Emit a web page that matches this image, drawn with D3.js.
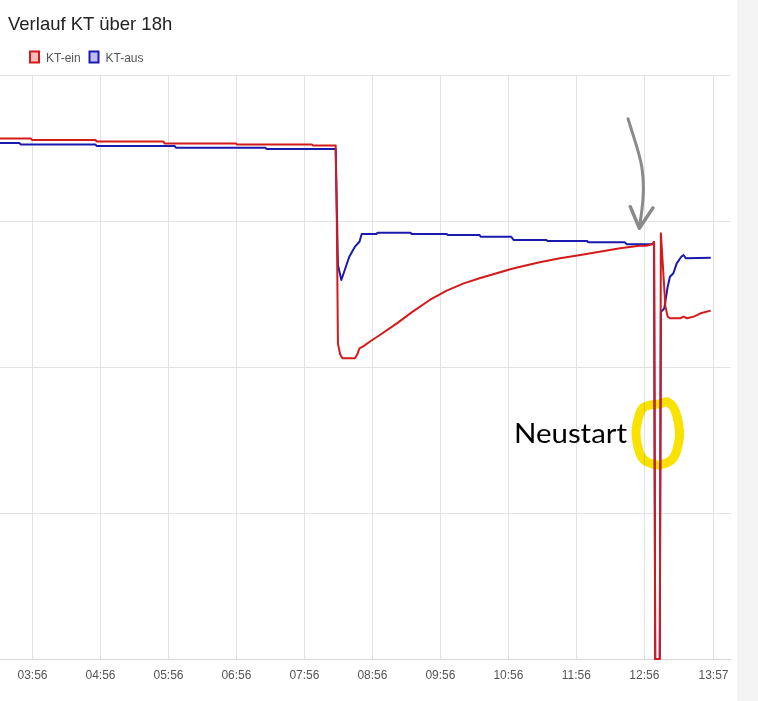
<!DOCTYPE html>
<html>
<head>
<meta charset="utf-8">
<script src="https://cdn.jsdelivr.net/npm/d3@7"></script>
<style>
  html, body { margin: 0; padding: 0; background: #fff; }
  svg { display: block; }
</style>
</head>
<body>
<svg id="chart" width="758" height="701"></svg>
<script>
// ---------- data ----------
const chartTitle = "Verlauf KT über 18h";
const seriesNames = ["KT-ein", "KT-aus"];
const tickLabels = ["03:56","04:56","05:56","06:56","07:56","08:56","09:56","10:56","11:56","12:56","13:57"];
const yTicks = [0, 10, 20, 30, 40];

const einTimes = ["03:26","03:55","03:56","04:52","04:53","05:52","05:53","06:56","06:57","08:03","08:04","08:24","08:25","08:26","08:28","08:30","08:41","08:43","08:45","08:49","08:54","09:03","09:18","09:32","09:47","10:02","10:17","10:31","10:46","10:58","11:07","11:24","11:42","12:00","12:17","12:35","12:52","12:58","13:03","13:05","13:06","13:10","13:11","13:13","13:15","13:17","13:19","13:28","13:31","13:34","13:40","13:46","13:55"];
const einValues = [35.65,35.65,35.55,35.55,35.45,35.45,35.31,35.31,35.24,35.24,35.17,35.17,30.0,21.6,20.85,20.6,20.6,20.85,21.28,21.45,21.73,22.19,22.99,23.79,24.59,25.23,25.73,26.08,26.42,26.69,26.87,27.17,27.45,27.67,27.90,28.13,28.31,28.31,28.40,28.58,0,0,29.16,26.64,24.13,23.45,23.34,23.34,23.45,23.34,23.45,23.68,23.86];

const ausTimes = ["03:26","03:45","03:46","04:52","04:53","06:02","06:03","07:22","07:23","08:24","08:26","08:29","08:33","08:36","08:41","08:45","08:47","09:00","09:01","09:30","09:31","10:02","10:03","10:31","10:32","10:59","11:01","11:30","11:31","12:06","12:07","12:39","12:41","13:05","13:06","13:10","13:11","13:14","13:17","13:19","13:22","13:25","13:29","13:31","13:33","13:55"];
const ausValues = [35.34,35.34,35.24,35.24,35.14,35.14,35.02,35.02,34.94,34.94,26.99,25.96,26.87,27.55,28.24,28.58,29.11,29.11,29.20,29.20,29.11,29.11,29.04,29.04,28.92,28.92,28.70,28.70,28.63,28.63,28.54,28.54,28.40,28.40,0,0,23.77,24.02,25.50,26.18,26.42,27.10,27.55,27.67,27.45,27.49];

// annotation (hand-drawn overlay) in data coordinates
const arrowTimes  = ["12:42","12:49","12:55","12:56","12:54:30","12:52"];
const arrowValues = [37.0, 35.3, 33.7, 32.1, 30.8, 29.55];
const arrowHeadTimes  = ["12:44","12:52","13:04"];
const arrowHeadValues = [30.98, 29.5, 30.9];
const circleTimes  = ["13:10","12:55","12:49","12:54","13:08","13:22","13:27:30","13:24","13:17"];
const circleValues = [17.47, 17.19, 15.55, 13.84, 13.29, 13.77, 15.34, 16.92, 17.6];
const noteText = "Neustart";

// ---------- scales ----------
const parseT = s => {
  const p = s.split(":").map(Number);
  return new Date(2020, 0, 1, p[0], p[1], p[2] || 0);
};
const x = d3.scaleTime()
  .domain([parseT("03:26"), parseT("14:12")])
  .range([-2, 730]);
const y = d3.scaleLinear().domain([0, 40]).range([659, 75]);

const svg = d3.select("#chart");

// right grey panel
svg.append("rect").attr("x", 737).attr("y", 0).attr("width", 21).attr("height", 701).attr("fill", "#f4f4f4");

// title
svg.append("text").attr("x", 8).attr("y", 29.5)
  .attr("font-family", "'Liberation Sans', Arial, sans-serif")
  .attr("font-size", 18.5).attr("fill", "#222").text(chartTitle);

// legend
const legendColors = [["#d41a1a", "rgba(230,40,40,0.3)"], ["#1a1ab0", "rgba(40,40,220,0.3)"]];
const legendX = [30, 89.5];
seriesNames.forEach((n, i) => {
  svg.append("rect").attr("x", legendX[i]).attr("y", 51.5).attr("width", 9).attr("height", 11)
    .attr("fill", legendColors[i][1]).attr("stroke", legendColors[i][0]).attr("stroke-width", 2);
  svg.append("text").attr("x", legendX[i] + 16).attr("y", 61.5)
    .attr("font-family", "'Liberation Sans', Arial, sans-serif")
    .attr("font-size", 12).attr("fill", "#555").text(n);
});

// gridlines
const tickDates = tickLabels.map(parseT);
const grid = svg.append("g");
grid.selectAll("line.v").data(tickDates).enter().append("line")
  .attr("x1", d => Math.round(x(d)) + 0.5).attr("x2", d => Math.round(x(d)) + 0.5)
  .attr("y1", y(40)).attr("y2", y(0)).attr("stroke", "#e3e3e3");
grid.selectAll("line.h").data(yTicks).enter().append("line")
  .attr("x1", 0).attr("x2", 731)
  .attr("y1", d => Math.round(y(d)) + 0.5).attr("y2", d => Math.round(y(d)) + 0.5)
  .attr("stroke", d => d === 0 ? "#d9d9d9" : "#e3e3e3");

// x axis labels
const xAxis = d3.axisBottom(x).tickValues(tickDates)
  .tickFormat((d, i) => tickLabels[i]).tickSize(0).tickPadding(0);
const ax = svg.append("g").attr("transform", `translate(0,${y(0)})`).call(xAxis);
ax.select(".domain").remove();
ax.selectAll("text").attr("dy", null).attr("y", 20)
  .attr("font-family", "'Liberation Sans', Arial, sans-serif")
  .attr("font-size", 12).attr("fill", "#555");

// lines
const line = d3.line().x(d => x(d[0])).y(d => y(d[1])).curve(d3.curveLinear);
const ein = einTimes.map((t, i) => [parseT(t), einValues[i]]);
const aus = ausTimes.map((t, i) => [parseT(t), ausValues[i]]);

// yellow highlighter circle (multiply blend)
const circ = circleTimes.map((t, i) => [parseT(t), circleValues[i]]);
svg.append("path").attr("d", d3.line().x(d => x(d[0])).y(d => y(d[1])).curve(d3.curveCardinalClosed.tension(0.1))(circ))
  .attr("fill", "none").attr("stroke", "#f9e200").attr("stroke-width", 9)
  .attr("stroke-linecap", "round").style("mix-blend-mode", "multiply");

svg.append("path").datum(aus).attr("d", line)
  .attr("fill", "none").attr("stroke", "#1a1ab0").attr("stroke-width", 2).attr("stroke-linejoin", "round");
svg.append("path").datum(ein).attr("d", line)
  .attr("fill", "none").attr("stroke", "#d41a1a").attr("stroke-width", 2).attr("stroke-linejoin", "round");

// annotation text
svg.append("text").attr("x", 514).attr("y", 443)
  .attr("font-family", "Lato, 'Open Sans', sans-serif")
  .attr("font-size", 27).attr("fill", "#000")
  .attr("textLength", 113).attr("lengthAdjust", "spacingAndGlyphs")
  .text(noteText);

// gray arrow
const arr = arrowTimes.map((t, i) => [parseT(t), arrowValues[i]]);
const head = arrowHeadTimes.map((t, i) => [parseT(t), arrowHeadValues[i]]);
const aLine = d3.line().x(d => x(d[0])).y(d => y(d[1]));
svg.append("path").attr("d", aLine.curve(d3.curveBasis)(arr))
  .attr("fill", "none").attr("stroke", "#8a8a8a").attr("stroke-width", 3).attr("stroke-linecap", "round");
svg.append("path").attr("d", d3.line().x(d => x(d[0])).y(d => y(d[1]))(head))
  .attr("fill", "none").attr("stroke", "#8a8a8a").attr("stroke-width", 3.5)
  .attr("stroke-linecap", "round").attr("stroke-linejoin", "round");
</script>
</body>
</html>
